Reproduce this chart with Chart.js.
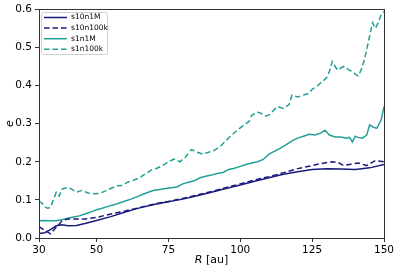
<!DOCTYPE html>
<html>
<head>
<meta charset="utf-8">
<script src="https://cdn.jsdelivr.net/npm/chart.js@4"></script>
<style>
  html, body { margin: 0; padding: 0; background: #fff; }
  #wrap { width: 399px; height: 271px; }
</style>
</head>
<body>
<div id="wrap"><canvas id="chart" width="399" height="271"></canvas></div>
<script>
const seriesNames = ['s10n1M', 's10n100k', 's1n1M', 's1n100k'];
const xTicks = [30, 50, 75, 100, 125, 150];

const rS10n1M = [30, 32, 34, 36, 38, 40, 43, 46, 50, 55, 60, 65, 70, 75, 80, 85, 90, 95, 100, 105, 110, 115, 120, 125, 130, 135, 140, 145, 150];
const eS10n1M = [0.012, 0.014, 0.022, 0.032, 0.035, 0.032, 0.033, 0.038, 0.046, 0.056, 0.068, 0.079, 0.088, 0.095, 0.102, 0.111, 0.12, 0.13, 0.139, 0.149, 0.158, 0.167, 0.174, 0.18, 0.182, 0.181, 0.18, 0.184, 0.193];

const rS10n100k = [30, 32, 34, 36, 38, 40, 43, 46, 50, 55, 60, 65, 70, 75, 80, 85, 90, 95, 100, 105, 110, 115, 120, 125, 128, 132, 134, 136, 138, 141, 144, 147, 150];
const eS10n100k = [0.03, 0.02, 0.011, 0.028, 0.045, 0.05, 0.05, 0.05, 0.054, 0.063, 0.071, 0.08, 0.089, 0.096, 0.104, 0.113, 0.122, 0.132, 0.142, 0.152, 0.161, 0.171, 0.182, 0.19, 0.195, 0.2, 0.198, 0.19, 0.193, 0.197, 0.19, 0.203, 0.2];

const rS1n1M = [30, 32, 34, 36, 38, 40, 42, 44, 46, 48, 50, 52, 54, 56, 58, 60, 62, 64, 66, 68, 70, 72, 74, 76, 78, 80, 82, 84, 86, 88, 90, 92, 94, 96, 98, 100, 102, 104, 106, 108, 110, 112, 114, 116, 118, 120, 122, 124, 126, 128, 129.5, 131, 133, 135, 137, 138, 139, 140, 141, 142.5, 144, 145, 146.5, 147.5, 149, 150];
const eS1n1M = [0.045, 0.046, 0.045, 0.045, 0.048, 0.052, 0.055, 0.058, 0.063, 0.068, 0.074, 0.078, 0.083, 0.087, 0.092, 0.097, 0.102, 0.108, 0.114, 0.12, 0.125, 0.127, 0.13, 0.132, 0.134, 0.142, 0.146, 0.15, 0.158, 0.162, 0.165, 0.169, 0.172, 0.18, 0.183, 0.188, 0.193, 0.197, 0.2, 0.206, 0.22, 0.228, 0.236, 0.245, 0.255, 0.262, 0.267, 0.272, 0.27, 0.275, 0.283, 0.27, 0.265, 0.265, 0.262, 0.264, 0.252, 0.267, 0.264, 0.262, 0.27, 0.297, 0.29, 0.288, 0.31, 0.345];

const rS1n100k = [30, 31, 32, 33, 34, 35, 36, 37, 38, 40, 41, 43, 45, 47, 49, 51, 53, 55, 57, 59, 61, 63, 65, 67, 69, 71, 73, 75, 77, 79, 81, 83, 85, 87, 89, 91, 93, 95, 97, 99, 101, 103, 104, 106, 107, 109, 110, 112, 113, 115, 117, 118, 120, 122, 124, 125, 127, 128, 130, 131, 132, 133, 134, 135, 136, 137, 138, 139, 140, 141, 142, 143, 144, 145, 146, 147, 148, 149, 150];
const eS1n100k = [0.097, 0.092, 0.082, 0.078, 0.08, 0.1, 0.12, 0.11, 0.128, 0.133, 0.13, 0.12, 0.125, 0.118, 0.116, 0.117, 0.123, 0.13, 0.137, 0.138, 0.147, 0.152, 0.158, 0.168, 0.178, 0.183, 0.19, 0.2, 0.207, 0.2, 0.213, 0.232, 0.225, 0.22, 0.225, 0.23, 0.24, 0.255, 0.27, 0.283, 0.295, 0.305, 0.322, 0.33, 0.328, 0.32, 0.323, 0.338, 0.345, 0.34, 0.35, 0.375, 0.37, 0.375, 0.38, 0.39, 0.4, 0.407, 0.42, 0.437, 0.463, 0.45, 0.44, 0.446, 0.45, 0.445, 0.44, 0.437, 0.43, 0.425, 0.44, 0.463, 0.494, 0.53, 0.565, 0.55, 0.565, 0.586, 0.595];

const NAVY = '#1b1b7d';
const TEAL = '#22a098';
const FONT = '"DejaVu Sans", sans-serif';

function toPoints(xs, ys) {
  return xs.map((x, i) => ({ x: x, y: ys[i] }));
}

const styles = [
  { color: NAVY, dash: [] },
  { color: NAVY, dash: [5.5, 3] },
  { color: TEAL, dash: [] },
  { color: TEAL, dash: [5.5, 3] },
];
const allPoints = [
  toPoints(rS10n1M, eS10n1M),
  toPoints(rS10n100k, eS10n100k),
  toPoints(rS1n1M, eS1n1M),
  toPoints(rS1n100k, eS1n100k),
];

// frame, legend box and axis titles in matplotlib style
const mplBits = {
  id: 'mplBits',
  afterDatasetsDraw(chart) {
    const ctx = chart.ctx;
    const a = chart.chartArea;
    ctx.save();
    ctx.strokeStyle = '#333';
    ctx.lineWidth = 1;
    ctx.strokeRect(Math.round(a.left) + 0.5, Math.round(a.top) + 0.5,
      Math.round(a.right - a.left), Math.round(a.bottom - a.top));

    // legend
    const lx = 41, ly = 12, lw = 66, lh = 42;
    ctx.fillStyle = 'rgba(255,255,255,0.8)';
    ctx.strokeStyle = '#d0d0d0';
    ctx.beginPath();
    ctx.roundRect(lx + 0.5, ly + 0.5, lw, lh, 2);
    ctx.fill();
    ctx.stroke();
    ctx.font = '7.5px ' + FONT;
    ctx.textBaseline = 'middle';
    ctx.textAlign = 'left';
    seriesNames.forEach((name, i) => {
      const y = 17.5 + i * 10.6;
      ctx.strokeStyle = styles[i].color;
      ctx.lineWidth = 1.5;
      ctx.setLineDash(styles[i].dash);
      ctx.beginPath();
      ctx.moveTo(44, y);
      ctx.lineTo(67, y);
      ctx.stroke();
      ctx.setLineDash([]);
      ctx.fillStyle = '#000';
      ctx.fillText(name, 71, y);
    });

    // axis titles
    ctx.fillStyle = '#000';
    ctx.font = 'italic 11px ' + FONT;
    const rW = ctx.measureText('R').width;
    ctx.font = '11px ' + FONT;
    const restW = ctx.measureText(' [au]').width;
    const cx = (a.left + a.right) / 2;
    const x0 = cx - (rW + restW) / 2;
    ctx.textBaseline = 'alphabetic';
    ctx.font = 'italic 11px ' + FONT;
    ctx.fillText('R', x0, 263);
    ctx.font = '11px ' + FONT;
    ctx.fillText(' [au]', x0 + rW, 263);

    ctx.translate(13, (a.top + a.bottom) / 2);
    ctx.rotate(-Math.PI / 2);
    ctx.textAlign = 'center';
    ctx.font = 'italic 11px ' + FONT;
    ctx.fillText('e', 0, 0);
    ctx.restore();
  }
};

const tickStyle = { font: { family: FONT, size: 10.5 }, color: '#000' };

new Chart(document.getElementById('chart').getContext('2d'), {
  type: 'line',
  data: {
    datasets: seriesNames.map((name, i) => ({
      label: name,
      data: allPoints[i],
      borderColor: styles[i].color,
      borderDash: styles[i].dash,
      borderWidth: 1.5,
      pointRadius: 0,
      tension: 0,
      fill: false,
    })),
  },
  options: {
    responsive: false,
    animation: false,
    events: [],
    layout: { padding: { top: 7, right: 15, left: 0, bottom: 0 } },
    plugins: { legend: { display: false }, tooltip: { enabled: false } },
    scales: {
      x: {
        type: 'linear',
        min: 30,
        max: 150,
        afterBuildTicks: (scale) => { scale.ticks = xTicks.map(v => ({ value: v })); },
        afterFit: (scale) => { scale.height = 33; },
        grid: { drawOnChartArea: false, drawTicks: true, tickLength: 4, color: '#333' },
        border: { display: false },
        ticks: Object.assign({ maxRotation: 0, autoSkip: false, padding: 2 }, tickStyle),
      },
      y: {
        min: 0,
        max: 0.6,
        afterFit: (scale) => { scale.width = 39; },
        grid: { drawOnChartArea: false, drawTicks: true, tickLength: 4, color: '#333' },
        border: { display: false },
        ticks: Object.assign({ stepSize: 0.1, padding: 3, callback: v => v.toFixed(1) }, tickStyle),
      },
    },
  },
  plugins: [mplBits],
});
</script>
</body>
</html>
